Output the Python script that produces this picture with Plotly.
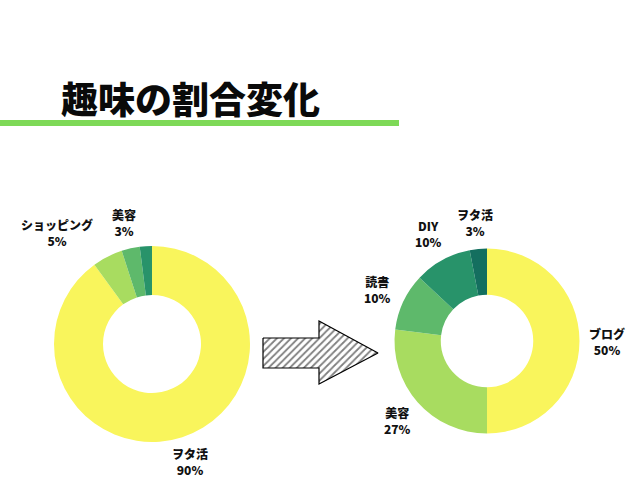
import plotly.graph_objects as go

# ---- data ----
before_labels = ["ヲタ活", "ショッピング", "美容", "その他"]
before_values = [90, 5, 3, 2]
before_colors = ["#F9F55C", "#A8DC60", "#5EB96B", "#28936A"]
before_show = [True, True, True, False]

after_labels = ["ブログ", "美容", "読書", "DIY", "ヲタ活"]
after_values = [50, 27, 10, 10, 3]
after_colors = ["#F9F55C", "#A8DC60", "#5EB96B", "#28936A", "#146F5F"]

title_text = "趣味の割合変化"

# ---- label positions (pixels) ----
before_label_pos = [(190, 461), (57, 232), (124, 222), None]
after_label_pos = [(607, 341), (397, 420), (377, 289), (428, 233), (475, 222)]

W, H = 640, 480
FONT = "Noto Sans CJK JP"

fig = go.Figure()

def dom(cx, cy, r):
    return dict(x=[(cx - r) / W, (cx + r) / W], y=[(H - cy - r) / H, (H - cy + r) / H])

fig.add_trace(go.Pie(
    labels=before_labels, values=before_values, hole=0.5, sort=False,
    direction="clockwise", rotation=0, textinfo="none", hoverinfo="label+percent",
    marker=dict(colors=before_colors, line=dict(width=0)),
    domain=dom(152, 344, 98), showlegend=False,
))
fig.add_trace(go.Pie(
    labels=after_labels, values=after_values, hole=0.5, sort=False,
    direction="clockwise", rotation=0, textinfo="none", hoverinfo="label+percent",
    marker=dict(colors=after_colors, line=dict(width=0)),
    domain=dom(487, 341, 92.5), showlegend=False,
))

# hatched arrow
arrow_x = [263, 319, 319, 378, 319, 319, 263, 263]
arrow_y = [338, 338, 321, 353, 384, 368, 368, 338]
fig.add_trace(go.Scatter(
    x=arrow_x, y=arrow_y, mode="lines", fill="toself",
    line=dict(color="black", width=1.2),
    fillcolor="white",
    fillpattern=dict(shape="/", fgcolor="black", bgcolor="white", size=5, solidity=0.35),
    hoverinfo="skip", showlegend=False,
))

annotations = []
def add_labels(labels, values, pos, show=None):
    for i, (lab, val, p) in enumerate(zip(labels, values, pos)):
        if p is None or (show is not None and not show[i]):
            continue
        annotations.append(dict(
            x=p[0], y=p[1], xref="x", yref="y", text=f"{lab}<br>{val}%",
            showarrow=False, xanchor="center", yanchor="middle", align="center",
            font=dict(family=FONT, size=12, color="#111111", weight=900),
        ))

add_labels(before_labels, before_values, before_label_pos, before_show)
add_labels(after_labels, after_values, after_label_pos)

annotations.append(dict(
    x=59, y=98, xref="x", yref="y", text=title_text, showarrow=False,
    xanchor="left", yanchor="middle",
    font=dict(family=FONT, size=37, color="#0A0A0A", weight=900),
))

fig.update_layout(
    width=W, height=H, margin=dict(l=0, r=0, t=0, b=0),
    paper_bgcolor="white", plot_bgcolor="rgba(0,0,0,0)",
    xaxis=dict(range=[0, W], visible=False, domain=[0, 1], fixedrange=True),
    yaxis=dict(range=[H, 0], visible=False, domain=[0, 1], fixedrange=True),
    annotations=annotations,
    shapes=[dict(type="line", xref="x", yref="y", x0=0, x1=399, y0=123, y1=123,
                 line=dict(color="#7ED957", width=6))],
)

fig.write_html("out.html", config={"displayModeBar": False},
               post_script="document.body.style.margin='0';document.body.style.overflow='hidden';")
